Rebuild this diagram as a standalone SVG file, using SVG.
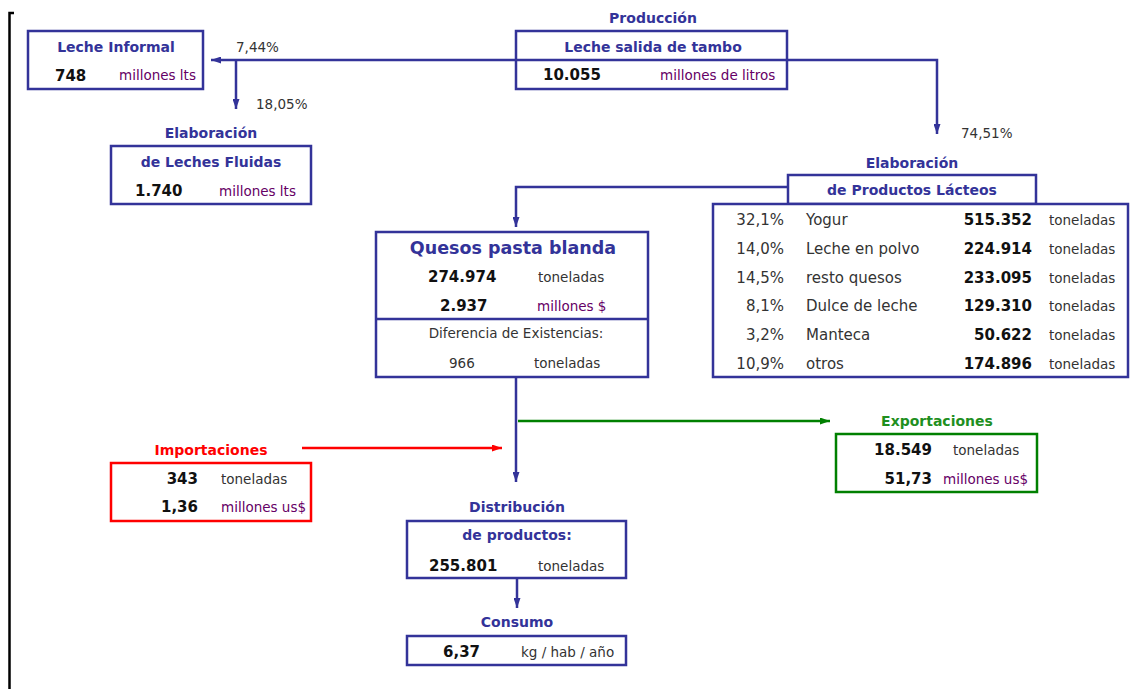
<svg xmlns="http://www.w3.org/2000/svg" width="1135" height="689" viewBox="0 0 1135 689">
<style>
text{font-family:"DejaVu Sans",Verdana,sans-serif}
.box{fill:#fff;stroke:#333399;stroke-width:2.5}
.ttl{font-size:14px;font-weight:bold;fill:#333399;text-anchor:middle}
.big{font-size:17.5px;font-weight:bold;fill:#333399;text-anchor:middle}
.val{font-size:15px;font-weight:bold;fill:#111}
.u{font-size:13.5px;fill:#333}
.m{font-size:13.5px;fill:#660066}
.pct{font-size:13.5px;fill:#333}
.t{font-size:15px;fill:#333}
.e{text-anchor:end}
.c{text-anchor:middle}
.ln{fill:none;stroke:#333399;stroke-width:2.5}
</style>
<defs>
<marker id="ab" viewBox="0 0 10 7" refX="10" refY="3.5" markerWidth="10" markerHeight="7" markerUnits="userSpaceOnUse" orient="auto"><path d="M0,0L10,3.5L0,7z" fill="#333399"/></marker>
<marker id="ar" viewBox="0 0 10 7" refX="10" refY="3.5" markerWidth="10" markerHeight="7" markerUnits="userSpaceOnUse" orient="auto"><path d="M0,0L10,3.5L0,7z" fill="#ff0000"/></marker>
<marker id="ag" viewBox="0 0 10 7" refX="10" refY="3.5" markerWidth="10" markerHeight="7" markerUnits="userSpaceOnUse" orient="auto"><path d="M0,0L10,3.5L0,7z" fill="#008000"/></marker>
</defs>
<path d="M14,13H9.5V689" fill="none" stroke="#000" stroke-width="2.5"/>
<g id="connectors">
<path class="ln" d="M516,60H211" marker-end="url(#ab)"/>
<path class="ln" d="M787,60H937V134" marker-end="url(#ab)"/>
<path class="ln" d="M236,60V109" marker-end="url(#ab)"/>
<path class="ln" d="M788,187H516V227" marker-end="url(#ab)"/>
<path class="ln" d="M516,377V482" marker-end="url(#ab)"/>
<path d="M518,421H830" fill="none" stroke="#008000" stroke-width="2.5" marker-end="url(#ag)"/>
<path d="M302,448H502" fill="none" stroke="#ff0000" stroke-width="2.5" marker-end="url(#ar)"/>
<path class="ln" d="M517,578V608" marker-end="url(#ab)"/>
<text class="pct" x="236" y="52">7,44%</text>
<text class="pct" x="256" y="109">18,05%</text>
<text class="pct" x="961" y="138">74,51%</text>
</g>
<g id="produccion">
<text class="ttl" x="653" y="23">Producción</text>
<rect class="box" x="516" y="31" width="271" height="58"/>
<line x1="516" y1="60" x2="787" y2="60" stroke="#333399" stroke-width="2.5"/>
<text class="ttl" x="653" y="52">Leche salida de tambo</text>
<text class="val" x="543" y="80">10.055</text>
<text class="m" x="660" y="80">millones de litros</text>
</g>
<g id="leche-informal">
<rect class="box" x="28" y="31" width="175" height="58"/>
<text class="ttl" x="116" y="52">Leche Informal</text>
<text class="val" x="55" y="81">748</text>
<text class="m" x="119" y="80">millones lts</text>
</g>
<g id="leches-fluidas">
<text class="ttl" x="211" y="138">Elaboración</text>
<rect class="box" x="111" y="146" width="200" height="58"/>
<text class="ttl" x="211" y="167">de Leches Fluidas</text>
<text class="val" x="135" y="196">1.740</text>
<text class="m" x="219" y="196">millones lts</text>
</g>
<g id="productos-lacteos">
<text class="ttl" x="912" y="168">Elaboración</text>
<rect class="box" x="788" y="175" width="248" height="29"/>
<text class="ttl" x="912" y="195">de Productos Lácteos</text>
<rect class="box" x="713" y="204" width="415" height="173"/>
<text class="t e" x="784" y="225">32,1%</text><text class="t" x="806" y="225">Yogur</text><text class="val e" x="1032" y="225">515.352</text><text class="u" x="1049" y="225">toneladas</text>
<text class="t e" x="784" y="254">14,0%</text><text class="t" x="806" y="254">Leche en polvo</text><text class="val e" x="1032" y="254">224.914</text><text class="u" x="1049" y="254">toneladas</text>
<text class="t e" x="784" y="283">14,5%</text><text class="t" x="806" y="283">resto quesos</text><text class="val e" x="1032" y="283">233.095</text><text class="u" x="1049" y="283">toneladas</text>
<text class="t e" x="784" y="311">8,1%</text><text class="t" x="806" y="311">Dulce de leche</text><text class="val e" x="1032" y="311">129.310</text><text class="u" x="1049" y="311">toneladas</text>
<text class="t e" x="784" y="340">3,2%</text><text class="t" x="806" y="340">Manteca</text><text class="val e" x="1032" y="340">50.622</text><text class="u" x="1049" y="340">toneladas</text>
<text class="t e" x="784" y="369">10,9%</text><text class="t" x="806" y="369">otros</text><text class="val e" x="1032" y="369">174.896</text><text class="u" x="1049" y="369">toneladas</text>
</g>
<g id="quesos">
<rect class="box" x="376" y="232" width="272" height="145"/>
<line x1="376" y1="319" x2="648" y2="319" stroke="#333399" stroke-width="2.5"/>
<text class="big" x="513" y="254">Quesos pasta blanda</text>
<text class="val" x="428" y="282">274.974</text>
<text class="u" x="538" y="282">toneladas</text>
<text class="val" x="440" y="311">2.937</text>
<text class="m" x="537" y="311">millones $</text>
<text class="u c" x="516" y="338">Diferencia de Existencias:</text>
<text class="u" x="449" y="368">966</text>
<text class="u" x="534" y="368">toneladas</text>
</g>
<g id="importaciones">
<text class="ttl" x="211" y="455" style="fill:#ff0000">Importaciones</text>
<rect x="111" y="463" width="200" height="58" fill="#fff" stroke="#ff0000" stroke-width="2.5"/>
<text class="val e" x="198" y="484">343</text>
<text class="u" x="221" y="484">toneladas</text>
<text class="val e" x="198" y="512">1,36</text>
<text class="m" x="221" y="512">millones us$</text>
</g>
<g id="exportaciones">
<text class="ttl" x="937" y="426" style="fill:#1f8f1f">Exportaciones</text>
<rect x="836" y="434" width="201" height="58" fill="#fff" stroke="#008000" stroke-width="2.5"/>
<text class="val e" x="932" y="455">18.549</text>
<text class="u" x="953" y="455">toneladas</text>
<text class="val e" x="932" y="484">51,73</text>
<text class="m" x="943" y="484">millones us$</text>
</g>
<g id="distribucion">
<text class="ttl" x="517" y="512">Distribución</text>
<rect class="box" x="407" y="521" width="219" height="57"/>
<text class="ttl" x="517" y="540">de productos:</text>
<text class="val" x="429" y="571">255.801</text>
<text class="u" x="538" y="571">toneladas</text>
</g>
<g id="consumo">
<text class="ttl" x="517" y="627">Consumo</text>
<rect class="box" x="407" y="636" width="219" height="29"/>
<text class="val" x="443" y="657">6,37</text>
<text class="u" x="521" y="657">kg / hab / año</text>
</g>
</svg>
